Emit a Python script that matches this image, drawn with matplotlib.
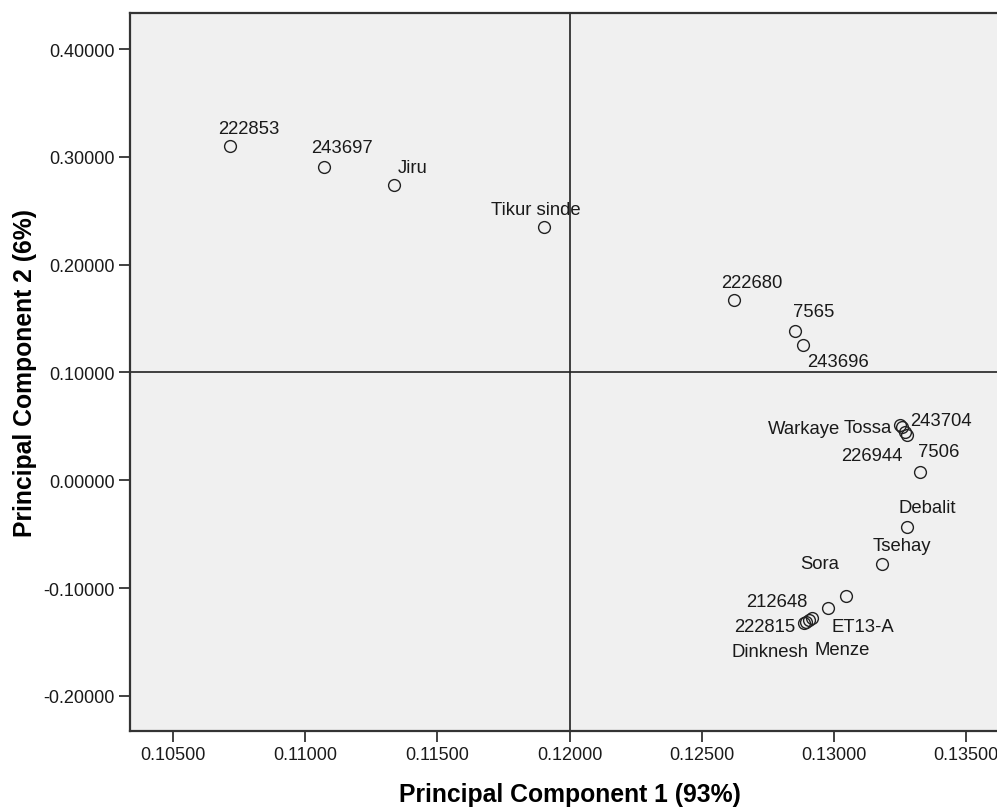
import matplotlib
matplotlib.use("Agg")
import matplotlib.pyplot as plt
from matplotlib.ticker import FormatStrFormatter, MultipleLocator

plt.rcParams["font.family"] = ["Liberation Sans", "DejaVu Sans"]
plt.rcParams["axes.unicode_minus"] = False

# Variety names and their scores on the first two principal components
names = ["222853", "243697", "Jiru", "Tikur sinde", "222680", "7565", "243696",
         "Warkaye", "Tossa", "243704", "226944", "7506", "Debalit", "Tsehay",
         "Sora", "ET13-A", "Menze", "212648", "Dinknesh", "222815"]
pc1 = [0.10716, 0.11071, 0.11336, 0.11903, 0.12622, 0.12852, 0.12883,
       0.13250, 0.13257, 0.13269, 0.13276, 0.13325, 0.13276, 0.13182,
       0.13045, 0.12977, 0.12917, 0.12905, 0.12894, 0.12887]
pc2 = [0.3100, 0.2905, 0.2738, 0.2349, 0.1672, 0.1384, 0.1254,
       0.0512, 0.0493, 0.0447, 0.0419, 0.0076, -0.0434, -0.0777,
       -0.1074, -0.1186, -0.1278, -0.1297, -0.1315, -0.1325]

# label offsets from the marker in pixels (dx, dy), placed like SPSS did
label_offsets = {
    "222853": (19, 18), "243697": (18, 20), "Jiru": (19, 18),
    "Tikur sinde": (-8, 18), "222680": (18, 18), "7565": (19, 20),
    "243696": (35, -16), "Warkaye": (-96, -3), "Tossa": (-34, 0),
    "243704": (36, 12), "226944": (-35, -20), "7506": (19, 21),
    "Debalit": (20, 20), "Tsehay": (20, 19), "Sora": (-26, 33),
    "ET13-A": (35, -18), "Menze": (30, -31), "212648": (-32, 19),
    "Dinknesh": (-36, -29), "222815": (-39, -3),
}

fig = plt.figure(figsize=(9.97, 8.12), dpi=100)
ax = fig.add_axes([130 / 997, 80 / 812, 867 / 997, 718 / 812])
ax.set_facecolor("#f0f0f0")

# reference lines through the centre
ax.axvline(0.12, color="#222222", lw=1.2, zorder=1)
ax.axhline(0.10, color="#222222", lw=1.2, zorder=1)

ax.plot(pc1, pc2, "o", ms=8.5, mfc="none", mec="#222222", mew=1.0, zorder=3)

for name, x, y in zip(names, pc1, pc2):
    dx, dy = label_offsets[name]
    ax.annotate(name, (x, y), xytext=(dx, dy), textcoords="offset pixels",
                ha="center", va="center", fontsize=13.3, color="#1a1a1a")

ax.set_xlim(0.10337, 0.13617)
ax.set_ylim(-0.2325, 0.4334)
ax.xaxis.set_major_locator(MultipleLocator(0.005))
ax.yaxis.set_major_locator(MultipleLocator(0.1))
ax.xaxis.set_major_formatter(FormatStrFormatter("%.5f"))
ax.yaxis.set_major_formatter(FormatStrFormatter("%.5f"))

for side in ["left", "bottom", "top"]:
    ax.spines[side].set_color("#333333")
    ax.spines[side].set_linewidth(1.6)
ax.spines["right"].set_visible(False)

ax.tick_params(axis="both", direction="out", length=8, width=1.3,
               color="#333333", labelsize=13, labelcolor="#1a1a1a", pad=3)

ax.set_xlabel("Principal Component 1 (93%)", fontsize=17.8, fontweight="bold")
ax.set_ylabel("Principal Component 2 (6%)", fontsize=17.8, fontweight="bold")
ax.xaxis.set_label_coords(0.507, -0.0877)
ax.xaxis.label.set_va("center")
ax.yaxis.set_label_coords(-0.121, 0.5)
ax.yaxis.label.set_va("center")

fig.savefig("out.png", dpi=100)
